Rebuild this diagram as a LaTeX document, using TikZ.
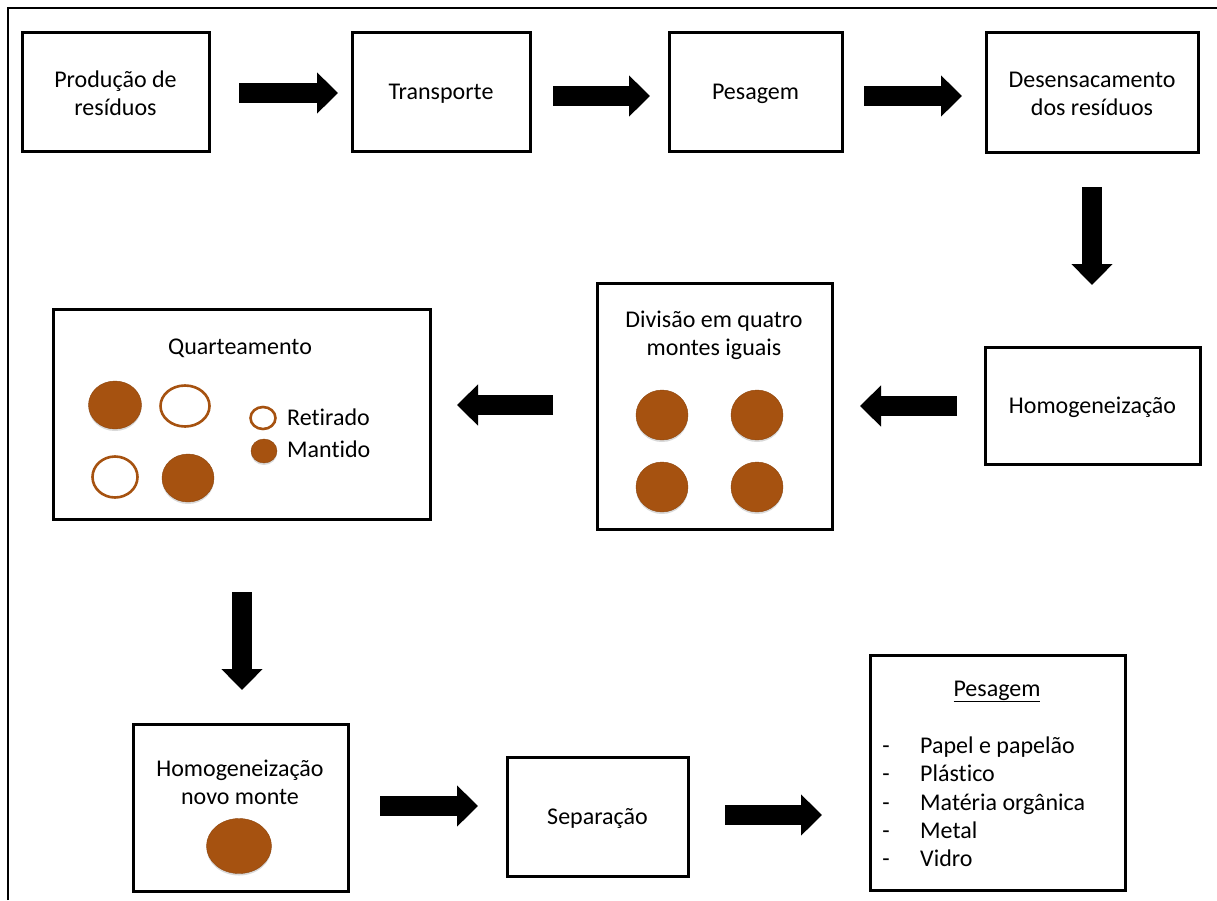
\documentclass[tikz,border=0pt]{standalone}
\usepackage{fontspec}
\setmainfont{Carlito}[Ligatures={NoCommon}]
\usetikzlibrary{arrows.meta,shadows,shapes.geometric}
\definecolor{mound}{RGB}{166,82,16}
\begin{document}
\begin{tikzpicture}[x=1pt,y=-1pt,
  txt/.style={font=\fontsize{24}{28}\selectfont, align=center, inner sep=0pt},
  box/.style={draw, line width=3pt, txt},
  oneline/.style={text height=19pt, text depth=3pt},
  listtxt/.style={txt, oneline},
  blockarrow/.style={line width=20pt, -{Triangle[length=21pt,width=40pt]}},
  heap/.style={ellipse, inner sep=0pt, fill=mound, draw=mound!85!black, line width=0.4pt,
    drop shadow={opacity=0.3, shadow xshift=0pt, shadow yshift=-2pt}},
  ring/.style={ellipse, inner sep=0pt, draw=mound, line width=2.6pt}]
\useasboundingbox (0,0) rectangle (1217,900);
\draw[line width=2.4pt] (8,900) -- (8,8) -- (1217,8);

% row 1
\node[box, minimum width=187pt, minimum height=119pt] (prod) at (115.5,91.5) {};
\node[txt] (prodt) at (115.5,93) {Produção de\\resíduos};
\node[box, minimum width=178pt, minimum height=119pt, oneline] (transp) at (441,91.5) {Transporte};
\node[box, minimum width=173pt, minimum height=119pt, oneline] (pes1) at (755.5,91.5) {Pesagem};
\node[box, minimum width=212pt, minimum height=120pt] (desens) at (1092,92) {};
\node[txt] (desenst) at (1092,93.5) {Desensacamento\\dos resíduos};

% row 2
\node[box, minimum width=215pt, minimum height=117pt, oneline] (homog) at (1092.5,405.5) {Homogeneização};
\node[box, minimum width=235pt, minimum height=246pt] (divbox) at (714.5,406) {};
\node[txt] (divtxt) at (714,335.5) {Divisão em quatro\\montes iguais};
\node[heap, minimum width=52pt, minimum height=50pt] (d1) at (662,415) {};
\node[heap, minimum width=52pt, minimum height=50pt] (d2) at (757,415) {};
\node[heap, minimum width=52pt, minimum height=50pt] (d3) at (662,487) {};
\node[heap, minimum width=52pt, minimum height=50pt] (d4) at (757,487) {};

\node[box, minimum width=377pt, minimum height=210pt] (quartbox) at (241.5,414) {};
\node[listtxt] (quarttxt) at (240,346) {Quarteamento};
\node[heap, minimum width=53pt, minimum height=48pt] (q1) at (115,405) {};
\node[ring, minimum width=49pt, minimum height=41pt] (q2) at (185,406) {};
\node[ring, minimum width=45pt, minimum height=41pt] (q3) at (115,477) {};
\node[heap, minimum width=52pt, minimum height=48pt] (q4) at (188,478) {};
\node[ring, minimum width=25pt, minimum height=22pt] (legR) at (263,418) {};
\node[heap, minimum width=26pt, minimum height=24pt] (legM) at (264,451) {};
\node[listtxt, anchor=west] (legRtxt) at (287,417) {Retirado};
\node[listtxt, anchor=west] (legMtxt) at (287,449) {Mantido};

% row 3
\node[box, minimum width=215pt, minimum height=167pt] (novobox) at (240.5,807.5) {};
\node[txt] (novotxt) at (240,782.5) {Homogeneização\\novo monte};
\node[heap, minimum width=65pt, minimum height=55pt] (novo) at (239,846) {};
\node[box, minimum width=181pt, minimum height=119pt, oneline] (sep) at (597.5,816.5) {Separação};
\node[box, minimum width=255pt, minimum height=235pt] (pes2) at (997.5,772.5) {};
\node[listtxt] (pes2t) at (997,688) {\underline{Pesagem}};
\foreach \y/\t [count=\i] in {745/Papel e papelão,773/Plástico,802/Matéria orgânica,830/Metal,858/Vidro}{
  \node[listtxt] (dash\i) at (886,\y) {-};
  \node[listtxt, anchor=west] (item\i) at (920,\y) {\t};
}

% arrows
\coordinate (a1s) at (239,93);  \coordinate (a1e) at (338,93);
\coordinate (a2s) at (553,96);  \coordinate (a2e) at (650,96);
\coordinate (a3s) at (864,96);  \coordinate (a3e) at (962,96);
\coordinate (a4s) at (1092,187); \coordinate (a4e) at (1092,285);
\coordinate (a5s) at (957,406); \coordinate (a5e) at (860,406);
\coordinate (a6s) at (553,405); \coordinate (a6e) at (457,405);
\coordinate (a7s) at (242,592); \coordinate (a7e) at (242,690);
\coordinate (a8s) at (380,806); \coordinate (a8e) at (478,806);
\coordinate (a9s) at (725,815); \coordinate (a9e) at (822,815);
\foreach \i in {1,...,9}{\draw[blockarrow] (a\i s) -- (a\i e);}
\end{tikzpicture}
\end{document}
